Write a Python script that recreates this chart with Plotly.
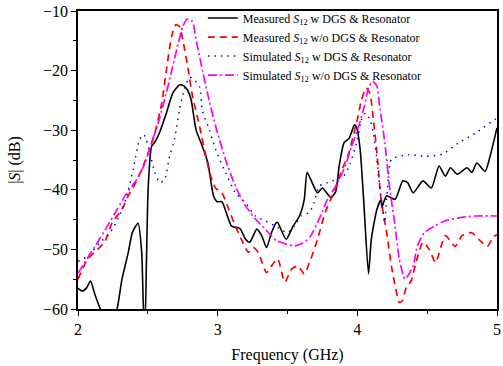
import plotly.graph_objects as go

# Measured S12 with DGS & Resonator (black solid)
f_meas_w = [2.00, 2.03, 2.06, 2.09, 2.12, 2.16, 2.20, 2.25, 2.28, 2.315, 2.36, 2.39, 2.43, 2.456, 2.47, 2.48, 2.49, 2.503,
            2.527, 2.55, 2.586, 2.633, 2.68, 2.727, 2.76, 2.785, 2.81, 2.845, 2.89, 2.93, 2.97, 2.997, 3.03, 3.07, 3.10,
            3.16, 3.20, 3.23, 3.28, 3.315, 3.35, 3.385, 3.42, 3.43, 3.49, 3.54, 3.586, 3.62, 3.64, 3.667, 3.715, 3.75,
            3.81, 3.845, 3.87, 3.905, 3.94, 3.98, 3.995, 4.02, 4.045, 4.08, 4.10, 4.14, 4.17, 4.176, 4.21, 4.27, 4.326,
            4.36, 4.40, 4.47, 4.53, 4.585, 4.63, 4.667, 4.715, 4.785, 4.82, 4.855, 4.915, 4.95, 5.00]
s_meas_w = [-56.5, -57.0, -56.5, -55.3, -57.5, -60.0, -62.0, -62.0, -60.0, -55.0, -50.5, -47.1, -45.6, -50.5, -60.5, -62.0, -52.0, -39.4,
            -32.7, -32.0, -30.3, -27.1, -23.7, -22.4, -22.6, -23.3, -24.9, -29.9, -32.7, -35.5, -41.0, -42.0, -42.0, -44.4, -46.1,
            -46.5, -48.3, -48.8, -46.6, -47.7, -49.7, -47.2, -45.5, -45.5, -48.3, -46.1, -44.4, -41.6, -37.1, -38.3, -40.5, -39.7,
            -41.3, -40.3, -36.0, -32.1, -31.4, -29.1, -29.5, -33.2, -41.6, -54.1, -48.3, -43.3, -41.6, -42.9, -41.0, -41.6, -38.5,
            -38.8, -40.5, -38.5, -39.7, -36.0, -37.7, -36.3, -37.4, -36.3, -37.1, -35.5, -36.9, -34.4, -29.6]

# Measured S12 without DGS & Resonator (red dashed)
f_meas_wo = [2.00, 2.07, 2.14, 2.19, 2.245, 2.315, 2.36, 2.40, 2.456, 2.503, 2.55, 2.60, 2.633, 2.67, 2.70, 2.727, 2.75, 2.785,
             2.82, 2.87, 2.915, 2.95, 2.985, 3.03, 3.08, 3.127, 3.17, 3.22, 3.256, 3.29, 3.35, 3.385, 3.43, 3.48, 3.53, 3.574,
             3.62, 3.667, 3.715, 3.77, 3.83, 3.89, 3.94, 3.975, 4.00, 4.03, 4.063, 4.09, 4.115, 4.14, 4.17, 4.21, 4.244, 4.28,
             4.30, 4.32, 4.35, 4.385, 4.42, 4.47, 4.515, 4.56, 4.63, 4.70, 4.75, 4.82, 4.89, 4.93, 4.975, 5.00]
s_meas_wo = [-55.0, -51.6, -50.0, -48.8, -45.5, -43.3, -41.0, -39.4, -36.6, -33.8, -30.5, -25.4, -19.9, -14.3, -12.3, -12.6, -14.8, -19.3,
             -24.3, -29.3, -34.4, -37.7, -39.7, -40.5, -43.3, -46.1, -48.3, -50.5, -49.7, -50.5, -53.9, -52.8, -51.6, -55.5, -53.3, -52.8,
             -54.1, -51.6, -48.3, -43.8, -40.5, -36.6, -33.8, -30.5, -28.2, -24.9, -22.9, -23.8, -28.2, -33.8, -41.6, -47.2, -52.8, -57.2,
             -58.9, -58.7, -56.4, -55.3, -52.2, -48.8, -50.0, -52.2, -47.7, -49.5, -47.7, -47.2, -48.8, -49.5, -47.9, -47.5]

# Simulated S12 with DGS & Resonator (blue dotted)
f_sim_w = [2.00, 2.07, 2.16, 2.23, 2.29, 2.35, 2.40, 2.44, 2.47, 2.49, 2.515, 2.55, 2.586, 2.62, 2.655, 2.69, 2.727, 2.76, 2.80,
           2.83, 2.87, 2.89, 2.94, 2.985, 3.056, 3.127, 3.20, 3.27, 3.34, 3.43, 3.50, 3.55, 3.597, 3.656, 3.69, 3.727, 3.786,
           3.845, 3.903, 3.95, 4.00, 4.03, 4.06, 4.09, 4.115, 4.14, 4.16, 4.185, 4.195, 4.215, 4.244, 4.37, 4.49, 4.61, 4.726,
           4.845, 4.985, 5.00]
s_sim_w = [-52.0, -51.1, -48.8, -47.2, -44.7, -41.0, -36.0, -31.6, -30.7, -31.6, -33.8, -37.1, -38.8, -38.3, -34.4, -31.6, -26.6, -23.2, -21.1,
           -21.5, -22.7, -26.6, -29.9, -33.2, -37.1, -40.5, -42.2, -44.4, -45.2, -46.3, -47.2, -46.1, -44.4, -43.8, -42.2, -39.4, -38.8,
           -38.3, -37.7, -35.5, -31.6, -28.2, -27.1, -28.2, -30.5, -34.9, -39.4, -43.8, -45.5, -40.0, -34.9, -34.1, -34.4, -34.0, -32.1,
           -30.5, -28.2, -28.0]

# Simulated S12 without DGS & Resonator (magenta dash-dot)
f_sim_wo = [2.00, 2.07, 2.14, 2.21, 2.28, 2.35, 2.42, 2.48, 2.527, 2.574, 2.62, 2.67, 2.715, 2.75, 2.785, 2.82, 2.845, 2.88, 2.927,
            2.985, 3.056, 3.127, 3.20, 3.27, 3.34, 3.42, 3.55, 3.62, 3.667, 3.727, 3.786, 3.845, 3.903, 3.96, 4.01, 4.05, 4.08,
            4.11, 4.14, 4.16, 4.197, 4.23, 4.27, 4.30, 4.34, 4.36, 4.40, 4.43, 4.48, 4.55, 4.63, 4.726, 4.845, 5.00]
s_sim_wo = [-54.0, -51.4, -48.8, -46.1, -43.3, -40.5, -38.3, -35.5, -32.1, -28.8, -24.9, -20.1, -15.7, -12.6, -11.3, -11.8, -14.8, -18.7, -23.8,
            -29.3, -34.9, -39.4, -42.7, -44.9, -46.6, -48.5, -49.4, -48.8, -47.7, -44.9, -41.6, -39.4, -36.6, -32.7, -29.3, -26.0, -22.9,
            -21.8, -22.6, -26.0, -32.1, -39.4, -46.1, -51.6, -55.0, -54.5, -52.8, -49.4, -47.2, -46.1, -45.2, -44.7, -44.4, -44.4]

names = ["Measured <i>S</i><sub>12</sub> w DGS & Resonator",
         "Measured <i>S</i><sub>12</sub> w/o DGS & Resonator",
         "Simulated <i>S</i><sub>12</sub> w DGS & Resonator",
         "Simulated <i>S</i><sub>12</sub> w/o DGS & Resonator"]

x_ticks = [2, 3, 4, 5]
y_ticks = [-60, -50, -40, -30, -20, -10]

FONT = "Liberation Serif, Times New Roman, serif"

fig = go.Figure()
fig.add_trace(go.Scatter(x=f_meas_w, y=s_meas_w, mode="lines", name=names[0],
                         line=dict(color="black", width=1.6, shape="spline", smoothing=0.6)))
fig.add_trace(go.Scatter(x=f_meas_wo, y=s_meas_wo, mode="lines", name=names[1],
                         line=dict(color="#FF0000", width=1.7, dash="7px,5px", shape="spline", smoothing=0.6)))
fig.add_trace(go.Scatter(x=f_sim_w, y=s_sim_w, mode="lines", name=names[2],
                         line=dict(color="#0000FF", width=1.5, dash="1.5px,5px", shape="spline", smoothing=0.6)))
fig.add_trace(go.Scatter(x=f_sim_wo, y=s_sim_wo, mode="lines", name=names[3],
                         line=dict(color="#FF00FF", width=1.7, dash="9px,3px,2px,3px", shape="spline", smoothing=0.6)))

axis_common = dict(showgrid=False, zeroline=False, linecolor="black", linewidth=1.5,
                   tickcolor="black", tickwidth=1.3, ticklen=5,
                   tickfont=dict(family=FONT, size=16, color="black"))

overlay_common = dict(showticklabels=False, showgrid=False, zeroline=False, showline=False,
                      tickcolor="black", tickwidth=1.3, ticklen=5, ticks="inside")

fig.update_layout(
    width=503, height=366,
    margin=dict(l=78, r=2, t=11, b=57),
    plot_bgcolor="white", paper_bgcolor="white",
    font=dict(family=FONT, color="black"),
    showlegend=True,
    legend=dict(x=0.298, y=1.025, xanchor="left", yanchor="top", bgcolor="rgba(0,0,0,0)",
                font=dict(family=FONT, size=12, color="black"), tracegroupgap=0,
                itemwidth=30),
    xaxis=dict(range=[2, 5], tickvals=x_ticks, ticks="outside", showline=True, mirror=True,
               minor=dict(dtick=0.5, ticks="outside", ticklen=3, tickcolor="black", tickwidth=1.2),
               title=dict(text="Frequency (GHz)", font=dict(family=FONT, size=16), standoff=12),
               **axis_common),
    yaxis=dict(range=[-60, -10], tickvals=y_ticks, ticks="outside", showline=True, mirror=True,
               minor=dict(dtick=5, ticks="outside", ticklen=3, tickcolor="black", tickwidth=1.2),
               title=dict(text="|<i>S</i>| (dB)", font=dict(family=FONT, size=16), standoff=18),
               **axis_common),
    xaxis2=dict(overlaying="x", side="top", range=[2, 5], tickvals=x_ticks,
                minor=dict(dtick=0.5, ticks="inside", ticklen=3, tickcolor="black", tickwidth=1.2),
                **overlay_common),
    yaxis2=dict(overlaying="y", side="right", range=[-60, -10], tickvals=y_ticks,
                minor=dict(dtick=5, ticks="inside", ticklen=3, tickcolor="black", tickwidth=1.2),
                **overlay_common),
)

fig.write_html("out.html")
